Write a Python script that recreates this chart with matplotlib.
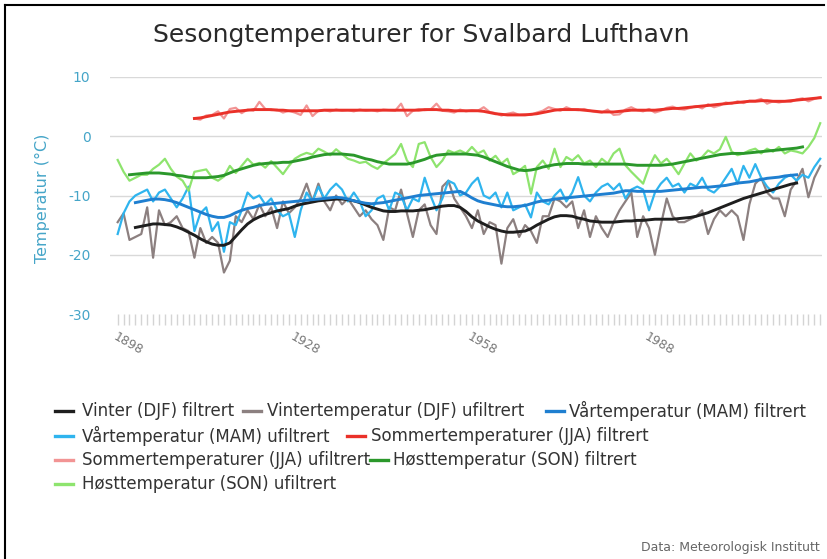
import numpy as np
import matplotlib.pyplot as plt
from matplotlib.lines import Line2D

W, H = 827, 559

years = np.arange(1898, 2018)

# Vinter (DJF), 1898-2017
vinter_ufilt = [
    -14.5, -13.0, -17.5, -17.0, -16.5, -12.0, -20.5, -12.5, -15.0, -14.5,
    -13.5, -15.5, -16.0, -20.5, -15.5, -18.0, -17.0, -18.0, -23.0, -21.0,
    -13.5, -14.5, -12.5, -14.0, -11.5, -13.5, -12.0, -15.5, -11.0, -13.0,
    -12.0, -10.5, -8.0, -11.0, -8.0, -11.0, -12.5, -10.0, -11.5, -10.5,
    -12.0, -13.5, -12.5, -14.0, -15.0, -17.5, -12.0, -12.5, -9.0, -13.0,
    -17.0, -12.5, -11.5, -15.0, -16.5, -8.5, -7.5, -10.5, -12.0, -13.5,
    -15.5, -12.5, -16.5, -14.5, -15.0, -21.5, -15.5, -14.0, -17.0, -15.0,
    -16.0, -18.0, -13.5, -13.5, -10.5, -11.0, -12.0, -11.0, -15.5, -12.5,
    -17.0, -13.5, -15.5, -17.0, -14.5, -12.5, -11.0, -9.5, -17.0, -13.5,
    -15.5, -20.0, -15.0, -10.5, -13.5, -14.5, -14.5, -14.0, -13.5, -12.5,
    -16.5, -14.0, -12.5, -13.5, -12.5, -13.5, -17.5, -11.5, -8.0, -7.0,
    -9.5, -10.5, -10.5, -13.5, -9.0, -7.5, -5.5, -10.3, -7.0, -5.0,
]
vinter_filt_start = 1901
vinter_filt = [
    -15.4, -15.2, -15.0, -14.8, -14.8, -14.9, -15.0, -15.3, -15.7, -16.2,
    -16.7, -17.3, -17.8, -18.2, -18.4, -18.4, -18.0, -16.9, -15.8, -14.8,
    -14.1, -13.6, -13.2, -12.9, -12.6, -12.4, -12.2, -11.8, -11.5, -11.3,
    -11.1, -10.9, -10.8, -10.7, -10.6, -10.6, -10.7, -10.9, -11.2, -11.6,
    -12.0, -12.3, -12.6, -12.7, -12.7, -12.6, -12.6, -12.6, -12.5, -12.4,
    -12.2, -12.0, -11.8, -11.7, -11.7, -12.0, -12.7, -13.6, -14.3, -14.8,
    -15.3, -15.7, -16.0, -16.2, -16.2, -16.1, -16.0, -15.6, -15.0, -14.5,
    -14.0, -13.6, -13.4, -13.4, -13.5, -13.8, -14.0, -14.3, -14.4, -14.5,
    -14.5, -14.5, -14.4, -14.3, -14.3, -14.2, -14.2, -14.1, -14.0, -14.0,
    -14.0, -14.0, -13.9, -13.8, -13.7, -13.5, -13.2, -12.9, -12.5, -12.1,
    -11.7, -11.3, -10.9, -10.5, -10.2, -9.9, -9.6, -9.3, -9.0, -8.7,
    -8.4, -8.1, -7.9,
]

# Vår (MAM), 1898-2017
vaar_ufilt = [
    -16.5, -13.0, -11.0, -10.0, -9.5, -9.0, -11.0, -9.5, -9.0, -10.5,
    -12.0, -10.5, -8.5, -16.0, -13.0, -12.0, -16.0, -14.5, -19.5, -14.5,
    -15.0, -12.5, -9.5, -10.5, -10.0, -11.5, -10.5, -12.5, -13.5, -13.0,
    -17.0, -12.5, -9.5, -11.0, -8.5, -10.5, -9.0, -8.0, -9.0, -11.0,
    -9.5, -11.0, -13.5, -12.5, -10.5, -10.0, -12.5, -9.5, -10.0, -12.5,
    -10.5, -11.0, -7.0, -10.0, -12.5, -10.5, -7.5, -8.0, -10.0, -9.5,
    -8.0, -7.0, -10.0, -10.5, -9.5, -12.0, -9.5, -12.5, -12.0, -11.5,
    -13.7, -9.5, -11.0, -11.5, -10.0, -9.0, -11.0, -9.5, -6.9, -10.0,
    -11.0, -9.5, -8.5, -8.0, -9.0, -8.0, -10.5, -9.0, -8.5, -9.0,
    -12.5, -9.5, -8.0, -7.0, -8.5, -8.0, -9.5, -8.0, -8.5, -7.0,
    -9.0, -9.5, -8.5, -7.0, -5.5, -8.0, -5.0, -7.0, -4.7, -7.0,
    -8.5, -9.5, -8.0, -7.0, -6.5, -7.5, -6.5, -7.0, -5.2, -3.8,
]
vaar_filt_start = 1901
vaar_filt = [
    -11.2, -11.0, -10.8, -10.6, -10.6, -10.7, -10.9, -11.2, -11.6, -12.0,
    -12.4, -12.8, -13.2, -13.5, -13.7, -13.7, -13.4, -12.9, -12.5, -12.2,
    -12.0, -11.7, -11.5, -11.4, -11.3, -11.2, -11.1, -11.0, -10.9, -10.8,
    -10.7, -10.6, -10.5, -10.4, -10.3, -10.4, -10.6, -10.9, -11.1, -11.3,
    -11.4, -11.3, -11.2, -11.0, -10.8, -10.6, -10.4, -10.2, -10.0, -9.9,
    -9.8, -9.7, -9.6, -9.5, -9.4, -9.3, -9.8, -10.4, -10.9, -11.2,
    -11.4, -11.6, -11.8, -11.9, -11.9, -11.8, -11.7, -11.4, -11.1, -10.9,
    -10.8, -10.6, -10.5, -10.4, -10.3, -10.2, -10.1, -10.0, -9.9, -9.8,
    -9.7, -9.6, -9.4, -9.2, -9.2, -9.3, -9.3, -9.3, -9.3, -9.3,
    -9.2, -9.1, -9.0, -8.9, -8.8, -8.7, -8.6, -8.6, -8.5, -8.4,
    -8.3, -8.1, -7.9, -7.8, -7.7, -7.5, -7.3, -7.1, -7.0, -6.9,
    -6.7, -6.6, -6.5,
]

# Sommer (JJA), 1911-2017
sommer_start = 1911
sommer_ufilt = [
    3.0, 2.8, 3.5, 3.6, 4.2, 3.0, 4.6, 4.8, 3.9, 4.5,
    4.3, 5.8, 4.6, 4.4, 4.5, 4.0, 4.3, 4.0, 3.6, 5.2,
    3.4, 4.3, 4.4, 4.2, 4.5, 4.3, 4.4, 4.2, 4.5, 4.3,
    4.4, 4.2, 4.5, 4.4, 4.3, 5.5, 3.4, 4.3, 4.6, 4.4,
    4.5, 5.5, 4.3, 4.2, 4.0, 4.5, 4.2, 4.4, 4.3, 4.9,
    4.1, 3.9, 3.5, 3.8, 4.0, 3.6, 3.7, 3.6, 4.0, 4.3,
    4.9, 4.6, 4.3, 4.9, 4.5, 4.4, 4.6, 4.3, 4.1, 4.0,
    4.5, 3.6, 3.7, 4.5, 4.9, 4.4, 4.2, 4.6, 4.0, 4.3,
    4.8, 5.0, 4.6, 4.5, 4.8, 5.1, 4.7, 5.4, 4.9, 5.2,
    5.7, 5.5, 5.9, 5.6, 6.0, 6.0, 6.3, 5.5, 5.9, 5.7,
    5.9, 5.8, 6.2, 6.4, 5.9, 6.3, 6.6,
]
sommer_filt = [
    3.0, 3.1, 3.3, 3.5, 3.7, 3.9, 4.1, 4.2, 4.3, 4.4,
    4.5, 4.5, 4.5, 4.5, 4.4, 4.4, 4.3, 4.3, 4.3, 4.3,
    4.3, 4.3, 4.4, 4.4, 4.4, 4.4, 4.4, 4.4, 4.4, 4.4,
    4.4, 4.4, 4.4, 4.4, 4.4, 4.4, 4.4, 4.4, 4.4, 4.5,
    4.5, 4.5, 4.4, 4.4, 4.3, 4.3, 4.3, 4.3, 4.3, 4.2,
    4.0, 3.8, 3.7, 3.6, 3.6, 3.6, 3.6, 3.7, 3.8, 4.0,
    4.2, 4.4, 4.5, 4.5, 4.5, 4.5, 4.4, 4.3, 4.2, 4.1,
    4.1, 4.1, 4.2, 4.3, 4.4, 4.4, 4.4, 4.4, 4.4, 4.5,
    4.6, 4.7, 4.7, 4.8, 4.9, 5.0, 5.1, 5.2, 5.3, 5.4,
    5.5, 5.6, 5.7, 5.8, 5.9, 5.9, 6.0, 6.0, 5.9, 5.9,
    5.9, 6.0, 6.1, 6.2, 6.3, 6.4, 6.5,
]

# Høst (SON), 1898-2017
hoest_ufilt = [
    -4.0, -6.0, -7.5, -7.0, -6.5, -6.5, -5.5, -4.8, -3.8, -5.5,
    -6.8, -7.5, -9.2, -6.0, -5.8, -5.6, -7.0, -7.5, -6.8, -5.0,
    -6.2, -5.0, -3.8, -4.8, -4.5, -5.3, -4.2, -5.3, -6.4, -5.0,
    -3.8, -3.2, -2.8, -3.1, -2.1, -2.6, -3.2, -2.2, -3.0, -3.8,
    -4.1, -4.5, -4.3, -5.0, -5.5, -4.6, -3.8, -3.0, -1.3, -4.1,
    -5.2, -1.3, -1.0, -3.5, -5.2, -4.1, -2.4, -2.8, -2.4, -2.9,
    -1.8, -2.9, -2.4, -4.1, -3.3, -4.6, -3.8, -6.4, -5.8, -5.0,
    -9.7, -5.2, -4.1, -5.5, -2.1, -5.2, -3.5, -4.1, -3.2, -4.6,
    -4.1, -5.2, -3.8, -4.6, -2.9, -2.1, -4.9, -6.0, -7.0, -8.0,
    -5.2, -3.2, -4.6, -3.8, -5.0, -6.4, -4.6, -2.9, -4.1, -3.5,
    -2.4, -2.9, -2.2, -0.1, -2.6, -3.2, -2.9, -2.4, -2.1, -2.9,
    -2.1, -2.6, -1.8, -2.9, -2.4, -2.6, -2.9, -1.8, -0.3, 2.2,
]
hoest_filt_start = 1900
hoest_filt = [
    -6.5, -6.4, -6.3, -6.2, -6.2, -6.2, -6.3, -6.4, -6.6, -6.7,
    -6.9, -7.0, -7.0, -7.0, -6.9, -6.8, -6.6, -6.2, -5.8, -5.5,
    -5.2, -4.9, -4.7, -4.6, -4.5, -4.5, -4.4, -4.4, -4.2, -4.0,
    -3.8, -3.5, -3.3, -3.1, -3.0, -3.0, -3.0, -3.1, -3.2, -3.5,
    -3.8, -4.0, -4.3, -4.5, -4.7, -4.7, -4.7, -4.7, -4.5, -4.2,
    -3.9, -3.5, -3.2, -3.1, -3.0, -3.0, -3.0, -3.0, -3.1, -3.2,
    -3.5, -3.9, -4.3, -4.7, -5.1, -5.4, -5.7, -5.8, -5.7, -5.5,
    -5.2, -5.0, -4.8, -4.7, -4.6, -4.6, -4.6, -4.7, -4.7, -4.7,
    -4.7, -4.7, -4.7, -4.7, -4.7, -4.8, -4.9, -4.9, -4.9, -4.9,
    -4.9, -4.8, -4.7, -4.5, -4.3, -4.1, -3.9, -3.7, -3.5, -3.3,
    -3.1, -3.0, -2.9, -2.9, -2.9, -2.8, -2.7, -2.6, -2.5, -2.4,
    -2.3, -2.2, -2.1, -2.0, -1.8,
]

x_labels = [1898, 1928, 1958, 1988]

# (label, first year, values, color, filtered)
series = [
    ("Vinter (DJF) filtrert", vinter_filt_start, vinter_filt, "#1e1e1e", True),
    ("Vintertemperatur (DJF) ufiltrert", 1898, vinter_ufilt, "#8c8080", False),
    ("Vårtemperatur (MAM) filtrert", vaar_filt_start, vaar_filt, "#1f7fd0", True),
    ("Vårtemperatur (MAM) ufiltrert", 1898, vaar_ufilt, "#2fb4ee", False),
    ("Sommertemperaturer (JJA) filtrert", sommer_start, sommer_filt, "#ea3129", True),
    ("Sommertemperaturer (JJA) ufiltrert", sommer_start, sommer_ufilt, "#f29494", False),
    ("Høsttemperatur (SON) filtrert", hoest_filt_start, hoest_filt, "#2b982b", True),
    ("Høsttemperatur (SON) ufiltrert", 1898, hoest_ufilt, "#8ee46e", False),
]

fig = plt.figure(figsize=(W / 100, H / 100), dpi=100)
ax = fig.add_axes([110 / W, 1 - 314 / H, (822 - 110) / W, (314 - 77) / H])

for label, start, vals, color, filt in series:
    xs = np.arange(start, start + len(vals))
    ax.plot(xs, vals, color=color, lw=2.1 if filt else 1.6,
            zorder=4 if filt else 3, solid_joinstyle="round")

ax.set_ylim(-30, 10)
ax.set_xlim(1896.7, 2017.3)
for y in (10, 0, -10, -20):
    ax.axhline(y, color="#d9d9d9", lw=1, zorder=1)
for s in ax.spines.values():
    s.set_visible(False)

ax.set_yticks([-30, -20, -10, 0, 10])
ax.set_yticklabels(["-30", "-20", "-10", "0", "10"])
ax.tick_params(axis="y", length=0, pad=14, labelcolor="#45a5c8", labelsize=10)

ax.set_xticks(years)
ax.set_xticklabels([str(y) if y in x_labels else "" for y in years],
                   rotation=-30, ha="left", va="top", rotation_mode="anchor")
ax.tick_params(axis="x", length=8, width=1, color="#d4d4d4", pad=4,
               labelcolor="#777777", labelsize=9)

fig.text(42 / W, 1 - 198 / H, "Temperatur (°C)", rotation=90, ha="center",
         va="center", color="#45a5c8", fontsize=11.5)

fig.text(421 / W, 1 - 35 / H, "Sesongtemperaturer for Svalbard Lufthavn",
         ha="center", va="center", color="#2a2a2a", fontsize=18)

# legend rows: (line start, text start, y) in pixels
legend_pos = [
    (55, 82, 411), (243, 267, 411), (546, 569, 411),
    (55, 82, 436), (347, 371, 436),
    (55, 82, 460), (370, 393, 460),
    (55, 82, 484),
]
for (label, start, vals, color, filt), (lx, tx, ly) in zip(series, legend_pos):
    fig.add_artist(Line2D([lx / W, (lx + 18) / W], [1 - ly / H, 1 - ly / H],
                          transform=fig.transFigure, color=color, lw=2.4))
    fig.text(tx / W, 1 - ly / H, label, ha="left", va="center",
             color="#333333", fontsize=12)

fig.text(820 / W, 1 - 548 / H, "Data: Meteorologisk Institutt", ha="right",
         va="center", color="#666666", fontsize=9)

# frame around the chart
fig.add_artist(Line2D([5 / W, 5 / W], [0, 1 - 5 / H], transform=fig.transFigure,
                      color="black", lw=1.5))
fig.add_artist(Line2D([5 / W, 824 / W], [1 - 5 / H, 1 - 5 / H],
                      transform=fig.transFigure, color="black", lw=1.5))

fig.savefig("out.png", dpi=100, facecolor="white")
